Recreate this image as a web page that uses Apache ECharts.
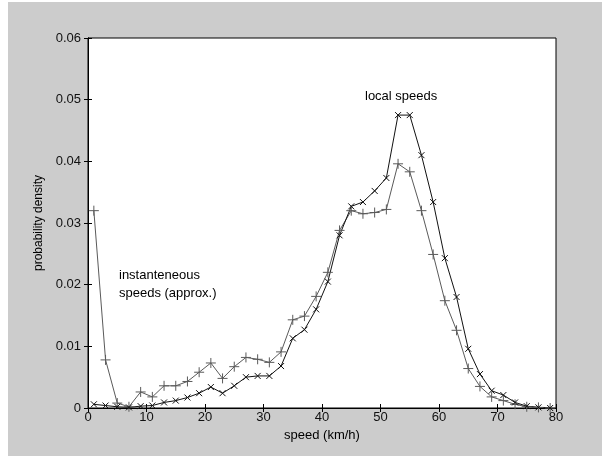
<!DOCTYPE html>
<html>
<head>
<meta charset="utf-8">
<script src="https://cdn.jsdelivr.net/npm/echarts@6/dist/echarts.min.js"></script>
<style>
  html, body { margin: 0; padding: 0; background: #cccccc; }
  #main { width: 602px; height: 457px; }
</style>
</head>
<body>
<div id="main"></div>
<script>
// speed bins (km/h), centres of 2 km/h bins
var speeds = [1,3,5,7,9,11,13,15,17,19,21,23,25,27,29,31,33,35,37,39,
              41,43,45,47,49,51,53,55,57,59,61,63,65,67,69,71,73,75,77,79];
// instantaneous speeds (approx.) - "+" markers
var instDensity = [0.0320,0.0078,0.0008,0.0002,0.0026,0.0018,0.0036,0.0036,0.0043,0.0058,
                   0.0073,0.0048,0.0067,0.0082,0.0079,0.0074,0.0091,0.0143,0.0149,0.0181,
                   0.0220,0.0288,0.0320,0.0315,0.0317,0.0322,0.0396,0.0383,0.0320,0.0249,
                   0.0174,0.0126,0.0064,0.0035,0.0018,0.0012,0.0006,0.0002,0.0001,0.0000];
// local speeds - "x" markers
var localDensity = [0.0006,0.0004,0.0002,0.0001,0.0003,0.0004,0.0009,0.0012,0.0017,0.0024,
                    0.0034,0.0024,0.0036,0.0050,0.0052,0.0052,0.0068,0.0113,0.0127,0.0160,
                    0.0205,0.0280,0.0327,0.0334,0.0352,0.0373,0.0475,0.0475,0.0410,0.0334,
                    0.0243,0.0180,0.0096,0.0055,0.0028,0.0021,0.0009,0.0003,0.0001,0.0000];

function pairs(ys) {
  var out = []
  for (var i = 0; i < speeds.length; i++) out.push([speeds[i], ys[i]])
  return out
}

var plusSym = 'path://M0,5L10,5M5,0L5,10'
var crossSym = 'path://M0,0L10,10M10,0L0,10'
var font = 'Liberation Sans, Arial, sans-serif'

var chart = echarts.init(document.getElementById('main'))
chart.setOption({
  backgroundColor: '#cccccc',
  animation: false,
  grid: { left: 88, right: 46, top: 38, bottom: 49, show: true, backgroundColor: '#ffffff', borderColor: '#000', borderWidth: 1 },
  xAxis: [{
    type: 'value', min: 0, max: 80, interval: 10,
    name: 'speed (km/h)', nameLocation: 'middle', nameGap: 13,
    nameTextStyle: { color: '#000', fontFamily: font, fontSize: 13 },
    axisLine: { lineStyle: { color: '#000' } },
    axisTick: { inside: true, length: 4, lineStyle: { color: '#000' } },
    axisLabel: { color: '#111', fontFamily: font, fontSize: 13, margin: 3 },
    splitLine: { show: false }
  }, {
    type: 'value', min: 0, max: 80, interval: 10, position: 'top',
    axisLine: { lineStyle: { color: '#000' } },
    axisTick: { inside: true, length: 4, lineStyle: { color: '#000' } },
    axisLabel: { show: false }, splitLine: { show: false }
  }],
  yAxis: [{
    type: 'value', min: 0, max: 0.06, interval: 0.01,
    name: 'probability density', nameLocation: 'middle', nameGap: 37,
    nameTextStyle: { color: '#000', fontFamily: font, fontSize: 12 },
    axisLine: { show: true, lineStyle: { color: '#000' } },
    axisTick: { show: true, inside: true, length: 4, lineStyle: { color: '#000' } },
    axisLabel: { color: '#111', fontFamily: font, fontSize: 13, margin: 7 },
    splitLine: { show: false }
  }, {
    type: 'value', min: 0, max: 0.06, interval: 0.01, position: 'right',
    axisLine: { show: true, lineStyle: { color: '#000' } },
    axisTick: { show: true, inside: true, length: 4, lineStyle: { color: '#000' } },
    axisLabel: { show: false }, splitLine: { show: false }
  }],
  series: [{
    name: 'instantaneous', type: 'line', data: pairs(instDensity),
    symbol: plusSym, symbolSize: 10, showAllSymbol: true,
    lineStyle: { color: '#5a5a5a', width: 1 },
    itemStyle: { color: 'transparent', borderColor: '#5a5a5a', borderWidth: 1 }
  }, {
    name: 'local', type: 'line', data: pairs(localDensity),
    symbol: crossSym, symbolSize: 6, showAllSymbol: true,
    lineStyle: { color: '#111', width: 1 },
    itemStyle: { color: 'transparent', borderColor: '#111', borderWidth: 1 }
  }],
  graphic: [{
    type: 'rect', left: 0, top: 0, shape: { width: 8, height: 457 }, style: { fill: '#ffffff' }, silent: true
  }, {
    type: 'rect', left: 0, top: 0, shape: { width: 602, height: 2 }, style: { fill: '#ffffff' }, silent: true
  }, {
    type: 'rect', left: 0, top: 456, shape: { width: 602, height: 1 }, style: { fill: '#ffffff' }, silent: true
  }, {
    type: 'text', left: 365, top: 90,
    style: { text: 'local speeds', fill: '#000', font: '13px ' + font }
  }, {
    type: 'text', left: 119, top: 266,
    style: { text: 'instanteneous\nspeeds (approx.)', fill: '#000', font: '13px ' + font, lineHeight: 18 }
  }]
})
</script>
</body>
</html>
